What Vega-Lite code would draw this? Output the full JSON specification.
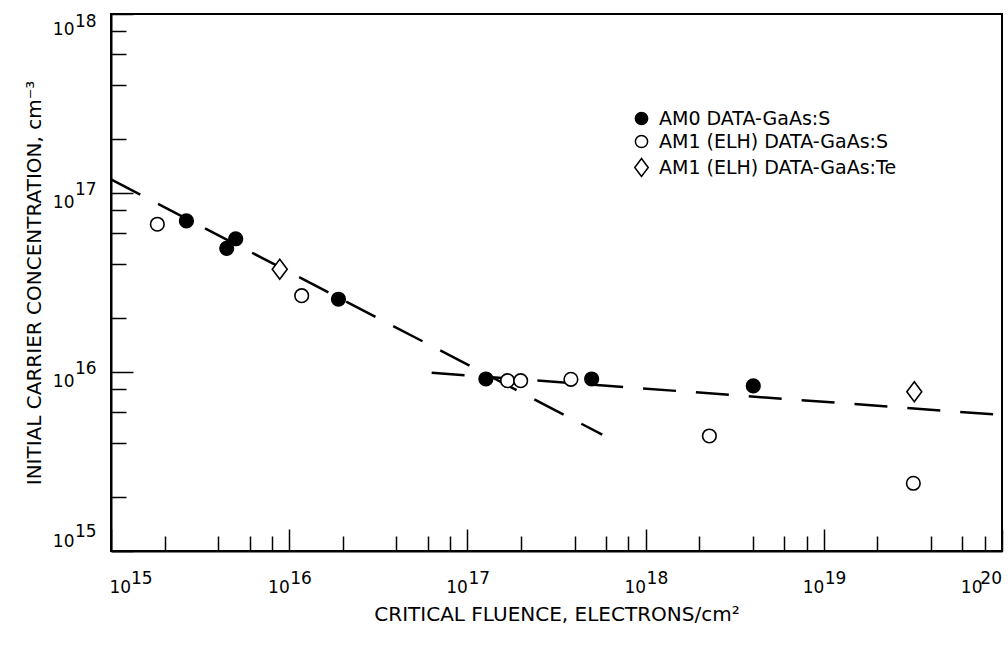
{
  "$schema": "https://vega.github.io/schema/vega-lite/v6.json",
  "width": 891,
  "height": 537,
  "autosize": {"type": "none"},
  "padding": {"left": 111, "top": 14, "right": 6, "bottom": 99},
  "background": "white",
  "config": {
    "view": {"stroke": "black", "strokeWidth": 2},
    "font": "DejaVu Sans",
    "axis": {
      "domainColor": "black", "domainWidth": 2,
      "tickColor": "black", "tickWidth": 1.5,
      "labelColor": "black", "titleColor": "black",
      "labelFontSize": 17, "titleFontSize": 20, "titleFontWeight": "normal",
      "grid": false, "labelOverlap": false, "labelFlush": false
    },
    "legend": {
      "labelFontSize": 19, "labelColor": "black", "labelFont": "DejaVu Sans", "labelLimit": 0,
      "symbolStrokeColor": "black", "symbolStrokeWidth": 1.5, "symbolSize": 150,
      "rowPadding": 3, "labelOffset": 8, "padding": 0
    },
    "text": {"font": "DejaVu Sans", "fontSize": 17, "color": "black"}
  },
  "datasets": {
    "points": [
      {"series": "AM0 DATA-GaAs:S", "fluence": 2.65e15, "conc": 6.98e16},
      {"series": "AM0 DATA-GaAs:S", "fluence": 4.46e15, "conc": 4.91e16},
      {"series": "AM0 DATA-GaAs:S", "fluence": 5.01e15, "conc": 5.55e16},
      {"series": "AM0 DATA-GaAs:S", "fluence": 1.89e16, "conc": 2.55e16},
      {"series": "AM0 DATA-GaAs:S", "fluence": 1.27e17, "conc": 9.14e15},
      {"series": "AM0 DATA-GaAs:S", "fluence": 4.98e17, "conc": 9.14e15},
      {"series": "AM0 DATA-GaAs:S", "fluence": 4.02e18, "conc": 8.36e15},
      {"series": "AM1 (ELH) DATA-GaAs:S", "fluence": 1.82e15, "conc": 6.69e16},
      {"series": "AM1 (ELH) DATA-GaAs:S", "fluence": 1.175e16, "conc": 2.67e16},
      {"series": "AM1 (ELH) DATA-GaAs:S", "fluence": 1.68e17, "conc": 8.94e15},
      {"series": "AM1 (ELH) DATA-GaAs:S", "fluence": 1.99e17, "conc": 8.94e15},
      {"series": "AM1 (ELH) DATA-GaAs:S", "fluence": 3.81e17, "conc": 9.1e15},
      {"series": "AM1 (ELH) DATA-GaAs:S", "fluence": 2.28e18, "conc": 4.39e15},
      {"series": "AM1 (ELH) DATA-GaAs:S", "fluence": 3.18e19, "conc": 2.39e15},
      {"series": "AM1 (ELH) DATA-GaAs:Te", "fluence": 8.85e15, "conc": 3.75e16},
      {"series": "AM1 (ELH) DATA-GaAs:Te", "fluence": 3.22e19, "conc": 7.76e15}
    ],
    "lines": [
      {"line": "steep", "fluence": 1e15, "conc": 1.19e17},
      {"line": "steep", "fluence": 5.71e17, "conc": 4.47e15},
      {"line": "shallow", "fluence": 6.3e16, "conc": 9.9e15},
      {"line": "shallow", "fluence": 1e20, "conc": 5.75e15}
    ],
    "xexp": [
      {"fluence": 1e15, "exp": "15"},
      {"fluence": 1e16, "exp": "16"},
      {"fluence": 1e17, "exp": "17"},
      {"fluence": 1e18, "exp": "18"},
      {"fluence": 1e19, "exp": "19"},
      {"fluence": 1e20, "exp": "20"}
    ],
    "yexp": [
      {"conc": 1e15, "exp": "15"},
      {"conc": 1e16, "exp": "16"},
      {"conc": 1e17, "exp": "17"},
      {"conc": 1e18, "exp": "18"}
    ]
  },
  "layer": [
    {
      "data": {"name": "lines"},
      "mark": {"type": "line", "color": "black", "strokeWidth": 2.5, "strokeDash": [33, 20]},
      "encoding": {
        "x": {
          "field": "fluence", "type": "quantitative",
          "scale": {"type": "log", "domain": [1e15, 1e20], "nice": false},
          "axis": {
            "title": "CRITICAL FLUENCE, ELECTRONS/cm²",
            "titlePadding": 2,
            "values": [1e15, 2e15, 4e15, 6e15, 8e15, 1e16, 2e16, 4e16, 6e16, 8e16, 1e17, 2e17, 4e17, 6e17, 8e17, 1e18, 2e18, 4e18, 6e18, 8e18, 1e19, 2e19, 4e19, 6e19, 8e19, 1e20],
            "tickSize": {"condition": {"test": "abs(log(datum.value)/LN10 - round(log(datum.value)/LN10)) < 0.001", "value": -22}, "value": -15},
            "labelPadding": 50,
            "labelAlign": {"condition": {"test": "datum.value == 1e15", "value": "left"}, "value": "right"},
            "labelOffset": {"condition": [{"test": "datum.value == 1e15", "value": -2}, {"test": "datum.value == 1e20", "value": -20}], "value": 0},
            "labelExpr": "abs(log(datum.value)/LN10 - round(log(datum.value)/LN10)) < 0.001 ? '10' : ''"
          }
        },
        "y": {
          "field": "conc", "type": "quantitative",
          "scale": {"type": "log", "domain": [1e15, 1e18], "nice": false},
          "axis": {
            "title": "INITIAL CARRIER CONCENTRATION, cm⁻³",
            "titlePadding": 8,
            "values": [1e15, 2e15, 4e15, 6e15, 8e15, 1e16, 2e16, 4e16, 6e16, 8e16, 1e17, 2e17, 4e17, 6e17, 8e17, 1e18],
            "tickSize": {"condition": {"test": "abs(log(datum.value)/LN10 - round(log(datum.value)/LN10)) < 0.001", "value": -22}, "value": -15},
            "labelPadding": 59,
            "labelBaseline": "top",
            "labelOffset": {"condition": [{"test": "datum.value == 1e15", "value": -18}, {"test": "datum.value == 1e18", "value": 7}], "value": 1},
            "labelExpr": "abs(log(datum.value)/LN10 - round(log(datum.value)/LN10)) < 0.001 ? '10' : ''"
          }
        },
        "detail": {"field": "line", "type": "nominal"}
      }
    },
    {
      "data": {"name": "points"},
      "mark": {"type": "point", "strokeWidth": 1.6, "opacity": 1, "size": 185},
      "encoding": {
        "x": {"field": "fluence", "type": "quantitative"},
        "y": {"field": "conc", "type": "quantitative"},
        "shape": {
          "field": "series", "type": "nominal",
          "scale": {
            "domain": ["AM0 DATA-GaAs:S", "AM1 (ELH) DATA-GaAs:S", "AM1 (ELH) DATA-GaAs:Te"],
            "range": ["circle", "circle", "M0,-1.47L1.1,0L0,1.47L-1.1,0Z"]
          },
          "legend": {"title": null, "orient": "none", "legendX": 521, "legendY": 95}
        },
        "fill": {
          "field": "series", "type": "nominal",
          "scale": {
            "domain": ["AM0 DATA-GaAs:S", "AM1 (ELH) DATA-GaAs:S", "AM1 (ELH) DATA-GaAs:Te"],
            "range": ["black", "white", "white"]
          },
          "legend": {"title": null, "orient": "none", "legendX": 521, "legendY": 95}
        },
        "stroke": {
          "field": "series", "type": "nominal",
          "scale": {
            "domain": ["AM0 DATA-GaAs:S", "AM1 (ELH) DATA-GaAs:S", "AM1 (ELH) DATA-GaAs:Te"],
            "range": ["black", "black", "black"]
          },
          "legend": {"title": null, "orient": "none", "legendX": 521, "legendY": 95}
        }
      }
    },
    {
      "data": {"name": "xexp"},
      "transform": [{"filter": "datum.fluence > 1.5e15 && datum.fluence < 5e19"}],
      "mark": {"type": "text", "align": "left", "baseline": "top", "dx": 1, "dy": 20},
      "encoding": {
        "x": {"field": "fluence", "type": "quantitative"},
        "y": {"datum": 1e15},
        "text": {"field": "exp"}
      }
    },
    {
      "data": {"name": "xexp"},
      "transform": [{"filter": "datum.fluence < 1.5e15"}],
      "mark": {"type": "text", "align": "left", "baseline": "top", "dx": 20, "dy": 20},
      "encoding": {
        "x": {"field": "fluence", "type": "quantitative"},
        "y": {"datum": 1e15},
        "text": {"field": "exp"}
      }
    },
    {
      "data": {"name": "xexp"},
      "transform": [{"filter": "datum.fluence > 5e19"}],
      "mark": {"type": "text", "align": "right", "baseline": "top", "dx": 0, "dy": 20},
      "encoding": {
        "x": {"field": "fluence", "type": "quantitative"},
        "y": {"datum": 1e15},
        "text": {"field": "exp"}
      }
    },
    {
      "data": {"name": "yexp"},
      "transform": [{"filter": "datum.conc > 1.5e15 && datum.conc < 5e17"}],
      "mark": {"type": "text", "align": "left", "baseline": "top", "dx": -36, "dy": -11},
      "encoding": {
        "y": {"field": "conc", "type": "quantitative"},
        "x": {"datum": 1e15},
        "text": {"field": "exp"}
      }
    },
    {
      "data": {"name": "yexp"},
      "transform": [{"filter": "datum.conc < 1.5e15"}],
      "mark": {"type": "text", "align": "left", "baseline": "top", "dx": -36, "dy": -27},
      "encoding": {
        "y": {"field": "conc", "type": "quantitative"},
        "x": {"datum": 1e15},
        "text": {"field": "exp"}
      }
    },
    {
      "data": {"name": "yexp"},
      "transform": [{"filter": "datum.conc > 5e17"}],
      "mark": {"type": "text", "align": "left", "baseline": "top", "dx": -36, "dy": 0},
      "encoding": {
        "y": {"field": "conc", "type": "quantitative"},
        "x": {"datum": 1e15},
        "text": {"field": "exp"}
      }
    }
  ]
}
